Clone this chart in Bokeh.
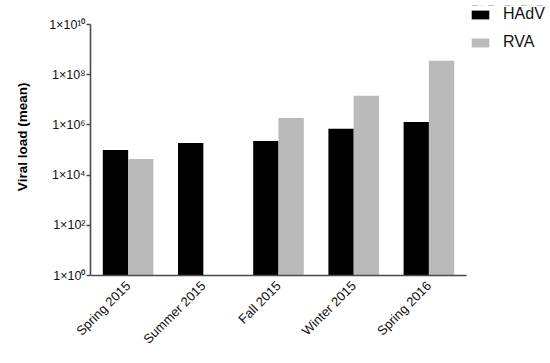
import math
from bokeh.plotting import figure
from bokeh.layouts import row, column
from bokeh.models import (FactorRange, Range1d, FixedTicker, CustomJSTickFormatter,
                          Legend, LegendItem, ColumnDataSource, Plot)
from bokeh.transform import dodge
from bokeh.embed import file_html
from bokeh.resources import INLINE

seasons = ["Spring 2015", "Summer 2015", "Fall 2015", "Winter 2015", "Spring 2016"]
hadv = [1.0e5, 1.9e5, 2.3e5, 7.0e5, 1.3e6]
rva = [4.4e4, float("nan"), 1.9e6, 1.45e7, 3.6e8]
y_ticks = [1, 1e2, 1e4, 1e6, 1e8, 1e10]
series_names = ["HAdV", "RVA"]
series_fields = ["hadv", "rva"]
series_colors = ["#000000", "#BABABA"]
offsets = [-0.168, 0.168]

src = ColumnDataSource(data=dict(season=seasons, hadv=hadv, rva=rva))

FONT = "Liberation Sans"
HAS_FRAME_ALIGN = "frame_align" in Plot.properties()

p = figure(width=469, height=363, output_backend="svg", toolbar_location=None,
           x_range=FactorRange(*seasons, range_padding=0),
           y_range=Range1d(1, 1e10), y_axis_type="log",
           min_border_left=90, min_border_top=24, min_border_right=3,
           min_border_bottom=88)
p.outline_line_color = None
p.xgrid.grid_line_color = None
p.ygrid.grid_line_color = None

for f, c, o in zip(series_fields, series_colors, offsets):
    p.vbar(x=dodge("season", o, range=p.x_range), top=f, bottom=1,
           width=0.337, source=src, fill_color=c, line_color=None)

ax_col = "#4a4a4a"
p.yaxis.ticker = FixedTicker(ticks=y_ticks, minor_ticks=[])
p.yaxis.formatter = CustomJSTickFormatter(code="""
const e = Math.round(Math.log10(tick));
const sup = {'0':'\u2070','1':'\u00b9','2':'\u00b2','3':'\u00b3','4':'\u2074','5':'\u2075','6':'\u2076','7':'\u2077','8':'\u2078','9':'\u2079'};
return '1\u00d710' + String(e).split('').map(c => sup[c]).join('');
""")
p.yaxis.axis_label = "\u00a0" * 7 + "Viral load (mean)"
p.yaxis.axis_label_text_font = FONT
p.yaxis.axis_label_text_font_style = "bold"
p.yaxis.axis_label_text_font_size = "13.5px"
p.yaxis.axis_label_text_color = "#000000"
p.yaxis.axis_label_standoff = 16
p.yaxis.major_tick_out = 4
p.yaxis.major_tick_in = 0
p.yaxis.minor_tick_line_color = None

for ax in (p.xaxis, p.yaxis):
    ax.axis_line_color = ax_col
    ax.axis_line_width = 1.6
    ax.major_tick_line_color = ax_col
    ax.major_tick_line_width = 1.6
    ax.major_label_text_font = FONT
    ax.major_label_text_color = "#111111"
    ax.major_label_standoff = 1

p.yaxis.major_label_text_font_size = "12.5px"
p.xaxis.major_label_text_font_size = "13px"
p.xaxis.major_tick_line_color = None
p.xaxis.major_label_orientation = math.pi / 4
p.xaxis.major_label_standoff = 2

# legend panel: a small figure beside the chart; its proxy bars lie outside its view
lg = figure(width=81, height=363, output_backend="svg", toolbar_location=None,
            x_range=FactorRange(*seasons), y_range=Range1d(-2, -1),
            x_axis_location=None, y_axis_location=None,
            min_border_left=0, min_border_right=0, min_border_top=5, min_border_bottom=0)
lg.outline_line_color = None
lg.xgrid.grid_line_color = None
lg.ygrid.grid_line_color = None
if HAS_FRAME_ALIGN:
    p.frame_align = False
    lg.frame_align = False
items = []
for name, f, c, o in zip(series_names, series_fields, series_colors, offsets):
    rr = lg.vbar(x=dodge("season", o, range=lg.x_range), top=f, bottom=1,
                 width=0.337, source=src, fill_color=c, line_color=None)
    items.append(LegendItem(label=name, renderers=[rr]))

legend = Legend(items=items, location="top_left", orientation="vertical")
legend.label_text_font = FONT
legend.label_text_font_size = "16px"
legend.label_text_color = "#111111"
legend.glyph_width = 22
legend.glyph_height = 11
legend.label_height = 11
legend.label_standoff = 12
legend.spacing = 10
legend.padding = 0
legend.margin = 0
legend.border_line_color = None
legend.background_fill_alpha = 0
lg.add_layout(legend, "center")

layout = row(p, column(lg, spacing=0), spacing=0)
open("out.html", "w").write(file_html(layout, INLINE))
